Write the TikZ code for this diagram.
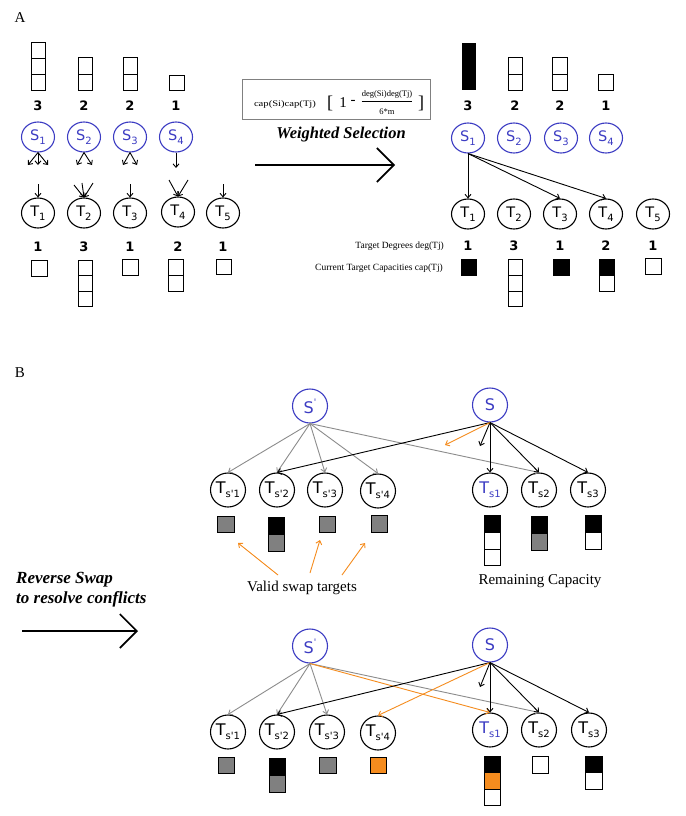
\documentclass[tikz,border=0pt]{standalone}
\usepackage{graphicx}
\usepackage{fontspec}
\setmainfont{Liberation Serif}
\newfontfamily\vfont{DejaVu Sans}
\usetikzlibrary{arrows.meta,shapes.geometric}
\definecolor{sblue}{RGB}{60,60,195}
\definecolor{sorange}{RGB}{245,140,30}
\definecolor{lgray}{RGB}{140,140,140}
\definecolor{fgray}{RGB}{128,128,128}
\newcommand\tsub[1]{\raisebox{-0.45ex}{\fontsize{10}{10}\selectfont #1}}
\newcommand\tsup[1]{\raisebox{0.9ex}{\fontsize{9}{9}\selectfont #1}}
\begin{document}
\begin{tikzpicture}[x=1pt,y=-1pt,
 snode/.style={ellipse,draw=sblue,line width=1.1pt,minimum width=33pt,minimum height=30pt,inner sep=0pt,text=sblue,font=\vfont\fontsize{14.5}{14.5}\selectfont},
 tnode/.style={snode,draw=black,text=black},
 bs/.style={snode,minimum width=35pt,minimum height=34pt,font=\vfont\fontsize{16}{16}\selectfont},
 bt/.style={bs,draw=black,text=black},
 num/.style={font=\vfont\bfseries\fontsize{13}{13}\selectfont,inner sep=0pt},
 arr/.style={-{Straight Barb[length=3.5pt,width=6pt]},line width=0.9pt},
 garr/.style={arr,draw=lgray},
 oarr/.style={arr,draw=sorange},
 cell/.style={draw=black,line width=1pt},
 big/.style={-{Straight Barb[length=17pt,width=34pt]},line width=1.6pt},
 lbl/.style={font=\fontsize{9.5}{10}\selectfont,inner sep=0pt,anchor=east},
 ftxt/.style={inner sep=0pt,font=\fontsize{8.5}{9}\selectfont}
]
\useasboundingbox (0,0) rectangle (685,816);
\fill[white] (0,0) rectangle (685,816);

% ---------- Panel A ----------
\node[font=\fontsize{15}{15}\selectfont] (lA) at (20,18) {A};

% left source capacities
\filldraw[cell,fill=white] (31.5,43) rectangle (45.5,58.7);
\filldraw[cell,fill=white] (31.5,58.7) rectangle (45.5,74.3);
\filldraw[cell,fill=white] (31.5,74.3) rectangle (45.5,90);
\filldraw[cell,fill=white] (78,58) rectangle (92,74);
\filldraw[cell,fill=white] (78,74) rectangle (92,90);
\filldraw[cell,fill=white] (123,58) rectangle (137,74);
\filldraw[cell,fill=white] (123,74) rectangle (137,90);
\filldraw[cell,fill=white] (169,75) rectangle (184,90);

\node[num] (ns1) at (38,106) {3};
\node[num] (ns2) at (84,106) {2};
\node[num] (ns3) at (130,106) {2};
\node[num] (ns4) at (176,106) {1};

\node[snode] (S1) at (38,137) {S\tsub{1}};
\node[snode] (S2) at (84,137) {S\tsub{2}};
\node[snode] (S3) at (130,137) {S\tsub{3}};
\node[snode] (S4) at (176,137) {S\tsub{4}};

\coordinate (a1) at (28,165); \coordinate (a2) at (38,165); \coordinate (a3) at (48,165);
\coordinate (a4) at (77,165); \coordinate (a5) at (92,165);
\coordinate (a6) at (123,165); \coordinate (a7) at (137,165);
\coordinate (a8) at (176,168);
\foreach \c in {a1,a2,a3} \draw[arr] (S1.south) -- (\c);
\foreach \c in {a4,a5} \draw[arr] (S2.south) -- (\c);
\foreach \c in {a6,a7} \draw[arr] (S3.south) -- (\c);
\draw[arr] (S4.south) -- (a8);

\node[tnode] (T1) at (38,213) {T\tsub{1}};
\node[tnode] (T2) at (84,213) {T\tsub{2}};
\node[tnode] (T3) at (130,213) {T\tsub{3}};
\node[tnode] (T4) at (178,212) {T\tsub{4}};
\node[tnode] (T5) at (223,213) {T\tsub{5}};

\coordinate (b1) at (38,184);
\coordinate (b2) at (74,185); \coordinate (b3) at (82,183); \coordinate (b4) at (93,183);
\coordinate (b5) at (130,184);
\coordinate (b6) at (169,180); \coordinate (b7) at (188,180);
\coordinate (b8) at (223,184);
\draw[arr] (b1) -- (T1.north);
\foreach \c in {b2,b3,b4} \draw[arr] (\c) -- (T2.north);
\draw[arr] (b5) -- (T3.north);
\foreach \c in {b6,b7} \draw[arr] (\c) -- (T4.north);
\draw[arr] (b8) -- (T5.north);

\node[num] (nt1) at (38,247) {1};
\node[num] (nt2) at (84,247) {3};
\node[num] (nt3) at (130,247) {1};
\node[num] (nt4) at (178,247) {2};
\node[num] (nt5) at (223,247) {1};

\filldraw[cell,fill=white] (31,260) rectangle (47,276);
\filldraw[cell,fill=white] (78,260) rectangle (92,275.5);
\filldraw[cell,fill=white] (78,275.5) rectangle (92,291);
\filldraw[cell,fill=white] (78,291) rectangle (92,306);
\filldraw[cell,fill=white] (122,259) rectangle (138,275);
\filldraw[cell,fill=white] (168,259) rectangle (183,275);
\filldraw[cell,fill=white] (168,275) rectangle (183,291);
\filldraw[cell,fill=white] (216,259) rectangle (231,274);

% formula box
\node[draw=gray,line width=0.8pt,minimum width=188pt,minimum height=40pt,inner sep=0pt] (fbox) at (336,99) {};
\node[ftxt] (fc) at (285,104) {\scalebox{1.25}[1]{cap(Si)cap(Tj)}};
\node[inner sep=0pt,font=\fontsize{18}{18}\selectfont] (fl) at (330,103) {[};
\node[inner sep=0pt,font=\fontsize{15}{15}\selectfont] (f1) at (343,103) {1};
\node[inner sep=0pt,font=\fontsize{15}{15}\selectfont] (fm) at (353,102) {-};
\node[ftxt] (fn) at (387,94) {deg(Si)deg(Tj)};
\node[ftxt] (fd) at (387,112) {6*m};
\draw[line width=0.5pt] (fn.south west) ++(0,3) coordinate (fla) -- (fn.south east |- fla);
\node[inner sep=0pt,font=\fontsize{18}{18}\selectfont] (fr) at (421,103) {]};

\node[font=\bfseries\itshape\fontsize{16.5}{16.5}\selectfont] (ws) at (341,135) {Weighted Selection};
\coordinate (wa) at (255,165); \coordinate (wb) at (395,165);
\draw[big] (wa) -- (wb);

% right side
\fill[black] (462,43) rectangle (476,90);
\filldraw[cell,fill=white] (508,58) rectangle (522,74);
\filldraw[cell,fill=white] (508,74) rectangle (522,90);
\filldraw[cell,fill=white] (552,58) rectangle (567,74);
\filldraw[cell,fill=white] (552,74) rectangle (567,90);
\filldraw[cell,fill=white] (598,74) rectangle (613,90);

\node[num] (rs1) at (468,106) {3};
\node[num] (rs2) at (515,106) {2};
\node[num] (rs3) at (560,106) {2};
\node[num] (rs4) at (606,106) {1};

\node[snode] (R1) at (468,138) {S\tsub{1}};
\node[snode] (R2) at (514,138) {S\tsub{2}};
\node[snode] (R3) at (561,138) {S\tsub{3}};
\node[snode] (R4) at (606,138) {S\tsub{4}};

\node[tnode] (U1) at (468,214) {T\tsub{1}};
\node[tnode] (U2) at (514,214) {T\tsub{2}};
\node[tnode] (U3) at (560,214) {T\tsub{3}};
\node[tnode] (U4) at (606,214) {T\tsub{4}};
\node[tnode] (U5) at (653,214) {T\tsub{5}};

\draw[arr] (R1.south) -- (U1.north);
\draw[arr] (R1.south) -- (U3.north);
\draw[arr] (R1.south) -- (U4.north);

\node[num] (rt1) at (468,246) {1};
\node[num] (rt2) at (514,246) {3};
\node[num] (rt3) at (560,246) {1};
\node[num] (rt4) at (606,246) {2};
\node[num] (rt5) at (653,246) {1};

\node[lbl] (l1) at (444,246) {Target Degrees deg(Tj)};
\node[lbl] (l2) at (443,268) {Current Target Capacities cap(Tj)};

\filldraw[cell,fill=black] (461,259) rectangle (476,275);
\filldraw[cell,fill=white] (508,259) rectangle (522,275);
\filldraw[cell,fill=white] (508,275) rectangle (522,291);
\filldraw[cell,fill=white] (508,291) rectangle (522,306);
\filldraw[cell,fill=black] (553,259) rectangle (569,275);
\filldraw[cell,fill=black] (599,259) rectangle (614,275);
\filldraw[cell,fill=white] (599,275) rectangle (614,291);
\filldraw[cell,fill=white] (645,258) rectangle (661,274);

% ---------- Panel B ----------
\node[font=\fontsize{15}{15}\selectfont] (lB) at (20,373) {B};

\node[font=\bfseries\itshape\fontsize{17}{20}\selectfont,align=left,anchor=west,inner sep=0pt] (rsw) at (16,590) {Reverse Swap\\to resolve conflicts};
\coordinate (ra) at (22,631); \coordinate (rb) at (138,631);
\draw[big] (ra) -- (rb);

% upper graph
\node[bs] (P) at (310,406) {S\tsup{'}};
\node[bs] (Q) at (490,405) {S};
\node[bt] (p1) at (228,490) {T\tsub{s'1}};
\node[bt] (p2) at (277,490) {T\tsub{s'2}};
\node[bt] (p3) at (325,490) {T\tsub{s'3}};
\node[bt] (p4) at (378,491) {T\tsub{s'4}};
\node[bt,text=sblue] (q1) at (490,490) {T\tsub{s1}};
\node[bt] (q2) at (539,490) {T\tsub{s2}};
\node[bt] (q3) at (588,490) {T\tsub{s3}};

\foreach \t in {p1,p2,p3,p4,q2} \draw[garr] (P.south) -- (\t.north);
\draw[arr] (Q.south) -- (p2.north);
\coordinate (qs) at (480,446);
\coordinate (qo) at (445,445);
\draw[arr] (Q.south) -- (qs);
\draw[oarr] (Q.south) -- (qo);
\foreach \t in {q1,q2,q3} \draw[arr] (Q.south) -- (\t.north);

\filldraw[cell,fill=fgray] (217,516) rectangle (234,532);
\filldraw[cell,fill=black] (268,517) rectangle (284,534);
\filldraw[cell,fill=fgray] (268,534) rectangle (284,551);
\filldraw[cell,fill=fgray] (319,516) rectangle (335,532);
\filldraw[cell,fill=fgray] (371,515) rectangle (387,532);
\filldraw[cell,fill=black] (484,515) rectangle (500,532);
\filldraw[cell,fill=white] (484,532) rectangle (500,549);
\filldraw[cell,fill=white] (484,549) rectangle (500,565);
\filldraw[cell,fill=black] (531,516) rectangle (547,533);
\filldraw[cell,fill=fgray] (531,533) rectangle (547,550);
\filldraw[cell,fill=black] (585,515) rectangle (601,532);
\filldraw[cell,fill=white] (585,532) rectangle (601,549);

\node[font=\fontsize{15}{15}\selectfont] (vst) at (302,588) {Valid swap targets};
\node[font=\fontsize{15}{15}\selectfont] (rc) at (540,581) {Remaining Capacity};
\coordinate (o1s) at (278,575); \coordinate (o1e) at (238,543);
\coordinate (o2s) at (310,573); \coordinate (o2e) at (320,540);
\coordinate (o3s) at (342,575); \coordinate (o3e) at (365,543);
\draw[oarr] (o1s) -- (o1e);
\draw[oarr] (o2s) -- (o2e);
\draw[oarr] (o3s) -- (o3e);

% lower graph
\node[bs] (P2) at (310,646) {S\tsup{'}};
\node[bs] (Q2) at (490,645) {S};
\node[bt] (m1) at (228,732) {T\tsub{s'1}};
\node[bt] (m2) at (277,732) {T\tsub{s'2}};
\node[bt] (m3) at (327,732) {T\tsub{s'3}};
\node[bt] (m4) at (378,733) {T\tsub{s'4}};
\node[bt,text=sblue] (n1) at (490,730) {T\tsub{s1}};
\node[bt] (n2) at (539,730) {T\tsub{s2}};
\node[bt] (n3) at (589,730) {T\tsub{s3}};

\foreach \t in {m1,m2,m3,n2} \draw[garr] (P2.south) -- (\t.north);
\draw[oarr] (P2.south) -- (n1.north);
\draw[arr] (Q2.south) -- (m2.north);
\draw[oarr] (Q2.south) -- (m4.north);
\coordinate (ns) at (480,687);
\draw[arr] (Q2.south) -- (ns);
\foreach \t in {n1,n2,n3} \draw[arr] (Q2.south) -- (\t.north);

\filldraw[cell,fill=fgray] (218,757) rectangle (234,773);
\filldraw[cell,fill=black] (269,758) rectangle (285,775);
\filldraw[cell,fill=fgray] (269,775) rectangle (285,792);
\filldraw[cell,fill=fgray] (319,757) rectangle (336,773);
\filldraw[cell,fill=sorange] (370,757) rectangle (386,773);
\filldraw[cell,fill=black] (484,756) rectangle (500,772);
\filldraw[cell,fill=sorange] (484,772) rectangle (500,789);
\filldraw[cell,fill=white] (484,789) rectangle (500,805);
\filldraw[cell,fill=white] (532,756) rectangle (548,773);
\filldraw[cell,fill=black] (585,756) rectangle (602,772);
\filldraw[cell,fill=white] (585,772) rectangle (602,789);
\end{tikzpicture}
\end{document}
